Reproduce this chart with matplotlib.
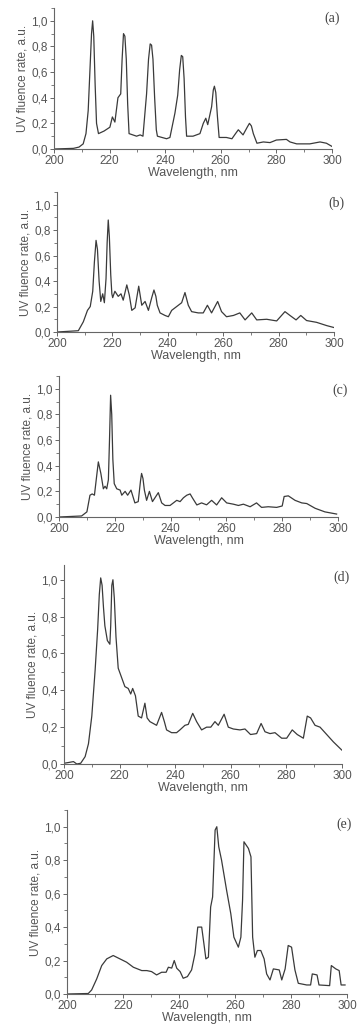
import matplotlib.pyplot as plt
from matplotlib.ticker import MultipleLocator, FuncFormatter

# Spectrum (a)
wl_a = [200, 207, 209, 210.5, 211.5, 212.3, 213, 213.5, 213.9, 214.3, 214.8, 215.3, 216, 218, 220.1,
        221, 221.9, 223, 224, 224.5, 225, 225.5, 226, 226.5, 227,
        229.7, 231, 232, 233.3, 234, 234.6, 235.1, 235.6, 236.2, 236.8, 237.2, 240.5, 241.7, 243.5,
        244.5, 245.2, 245.8, 246.3, 246.8, 247.3, 247.7,
        250, 252.5, 253.7, 254.6, 255.3, 256.7, 257.3, 257.7, 258.2, 258.8, 259.4, 262, 264, 265.3,
        266.3, 268, 269.5, 270.3, 271, 271.7, 273, 275.3, 277.7, 280, 283.6, 284.9, 287.3, 292, 295.7,
        298, 300]
uv_a = [0.0, 0.005, 0.015, 0.04, 0.12, 0.3, 0.65, 0.9, 1.0, 0.88, 0.5, 0.2, 0.12, 0.14, 0.17,
        0.25, 0.21, 0.4, 0.43, 0.7, 0.9, 0.88, 0.7, 0.35, 0.12,
        0.10, 0.11, 0.10, 0.43, 0.7, 0.82, 0.81, 0.7, 0.4, 0.15, 0.10, 0.08, 0.09, 0.28,
        0.42, 0.62, 0.73, 0.72, 0.55, 0.25, 0.10,
        0.10, 0.12, 0.2, 0.24, 0.19, 0.33, 0.46, 0.49, 0.44, 0.25, 0.09, 0.09, 0.08, 0.12,
        0.15, 0.11, 0.17, 0.2, 0.18, 0.12, 0.045, 0.055, 0.05, 0.07, 0.075, 0.055, 0.04, 0.04, 0.055,
        0.045, 0.02]

# Spectrum (b)
wl_b = [200, 207.7, 209.5, 211, 212, 212.9, 213.5, 214.1, 214.6, 215.2, 215.8, 216.5, 217.1, 217.7,
        218.1, 218.5, 218.9, 219.4, 219.8,
        220.1, 220.9, 222.1, 223.1, 223.9, 225.2, 226.1, 227, 228.2, 229.5, 230.6, 231.8, 233, 234.2,
        235, 235.7, 236.2, 237.2, 239, 240.2, 241.4, 243.2, 245, 246.2, 247.4, 248.6, 251, 252.8, 254.3,
        255.8, 258, 259.4, 261.2, 263.7, 266, 267.9, 270.3, 272.1, 275.7, 279.3, 282.3, 284.1, 286.3,
        288, 290.1, 293.7, 297.4, 300]
uv_b = [0.0, 0.01, 0.08, 0.17, 0.2, 0.32, 0.55, 0.72, 0.65, 0.4, 0.24, 0.3, 0.23, 0.42,
        0.7, 0.88, 0.75, 0.45, 0.3,
        0.27, 0.32, 0.28, 0.3, 0.25, 0.37, 0.29, 0.17, 0.19, 0.36, 0.21, 0.24, 0.17, 0.27,
        0.33, 0.28, 0.21, 0.15, 0.13, 0.12, 0.17, 0.2, 0.23, 0.31, 0.21, 0.16, 0.15, 0.15, 0.21,
        0.15, 0.24, 0.16, 0.12, 0.13, 0.15, 0.095, 0.15, 0.095, 0.1, 0.087, 0.16, 0.13, 0.095,
        0.13, 0.09, 0.076, 0.05, 0.035]

# Spectrum (c)
wl_c = [200, 208.1, 210, 211.1, 211.9, 212.7, 213.5, 214.1, 215, 215.9, 216.5, 217.1, 217.7, 218.1,
        218.5, 218.9, 219.3, 219.8, 220.7, 221.9, 222.5, 223.7, 224.6, 225.8, 227.2, 228.4, 229.2,
        229.6, 230.1, 230.6, 231.4,
        232.4, 233.5, 235.6, 236.8, 238, 239.8, 242.2, 243.4, 244.6, 245.8, 247, 247.8, 249.4, 251.1,
        252.9, 254.7, 256.5, 258.3, 260.1, 262.5, 264.3, 266.1, 268.5, 270.8, 272.6, 275, 278, 280,
        280.7, 282.2, 284.6, 287, 288.8, 291.8, 295.3, 299.5]
uv_c = [0.0, 0.008, 0.04, 0.17, 0.18, 0.17, 0.32, 0.43, 0.34, 0.22, 0.24, 0.22, 0.29, 0.6,
        0.95, 0.8, 0.45, 0.26, 0.22, 0.21, 0.17, 0.2, 0.17, 0.21, 0.11, 0.12, 0.28,
        0.34, 0.3, 0.21, 0.13,
        0.2, 0.12, 0.19, 0.11, 0.09, 0.09, 0.13, 0.12, 0.15, 0.17, 0.18, 0.15, 0.094, 0.11,
        0.095, 0.13, 0.094, 0.15, 0.11, 0.1, 0.09, 0.1, 0.08, 0.11, 0.075, 0.08, 0.075, 0.086,
        0.16, 0.165, 0.13, 0.11, 0.105, 0.068, 0.04, 0.023]

# Spectrum (d)
wl_d = [200, 201.6, 203.4, 204.6, 206, 207.6, 208.8, 210, 211.2, 212.1, 212.7, 213.2, 213.7, 214.2,
        214.7, 215.6, 216.5, 216.8, 217.2, 217.6, 218.1, 218.7, 219.5, 220.7, 221.9, 223.1, 224,
        224.7, 225.7, 226.7, 227.9, 229.1,
        229.9, 230.9, 232.1, 233.3, 235.1, 236.1, 236.9, 238.7, 240.5, 241.7, 243.5, 244.7, 246.3,
        247.7, 249.5, 251.3, 252.8, 254.3, 255.5, 257.6, 259.1, 260.9, 263.3, 265.1, 267.1, 269.3,
        270.9, 272.3, 274.1, 275.9, 278.3, 280.1, 282.1, 283.9, 286.1, 287.5, 288.7, 290.3, 292.1,
        294.5, 296.9, 299.9]
uv_d = [0.004, 0.008, 0.013, 0.0, 0.004, 0.04, 0.11, 0.26, 0.51, 0.73, 0.92, 1.01, 0.97, 0.85,
        0.75, 0.67, 0.65, 0.75, 0.97, 1.0, 0.9, 0.69, 0.52, 0.47, 0.42, 0.41, 0.38,
        0.41, 0.37, 0.26, 0.25, 0.33,
        0.25, 0.23, 0.22, 0.21, 0.28, 0.23, 0.185, 0.17, 0.17, 0.185, 0.21, 0.215, 0.275,
        0.23, 0.185, 0.2, 0.2, 0.23, 0.21, 0.27, 0.2, 0.19, 0.185, 0.19, 0.16, 0.165,
        0.22, 0.175, 0.165, 0.17, 0.14, 0.14, 0.185, 0.16, 0.14, 0.26, 0.25, 0.21, 0.2,
        0.16, 0.12, 0.076]

# Spectrum (e)
wl_e = [200, 207.6, 208.8, 210.6, 212.4, 214.2, 216.5, 218.9, 221.3, 223.7, 226.7, 228.5, 230.2,
        232, 233.8, 235.4, 236.2, 237.4, 238.3, 239.2, 240.4, 241.5, 243, 244.5, 245.7, 246.7, 248.1,
        248.9, 249.6, 250.5, 251.3, 252, 252.9, 253.5, 254.2, 255.2, 257, 258.5, 259.6, 261.2, 262.1,
        262.7, 263.2, 264.8, 265.7, 266.3, 267.1, 268, 269.2, 270.4, 271.3, 272.5, 273.7, 275.8,
        276.7, 277.9, 279, 280.2, 281.4, 282.6, 285.6, 287, 287.6, 289.3, 290, 293.8, 294.4, 296,
        297.2, 297.9, 299.3]
uv_e = [0.0, 0.003, 0.024, 0.09, 0.17, 0.21, 0.23, 0.21, 0.19, 0.16, 0.14, 0.14, 0.134,
        0.114, 0.13, 0.13, 0.16, 0.155, 0.2, 0.154, 0.134, 0.094, 0.104, 0.144, 0.24, 0.4, 0.4,
        0.3, 0.21, 0.22, 0.52, 0.58, 0.98, 1.0, 0.88, 0.8, 0.62, 0.48, 0.34, 0.28, 0.34,
        0.56, 0.91, 0.87, 0.82, 0.34, 0.22, 0.26, 0.26, 0.21, 0.12, 0.084, 0.15, 0.144,
        0.084, 0.15, 0.29, 0.28, 0.144, 0.064, 0.054, 0.054, 0.12, 0.114, 0.054, 0.05, 0.17, 0.15,
        0.14, 0.054, 0.054]

panels = [
    (wl_a, uv_a, '(a)', [54, 332, 149, 8], (1.0, 0.93)),
    (wl_b, uv_b, '(b)', [57, 334, 332, 192], (1.01, 0.92)),
    (wl_c, uv_c, '(c)', [59, 338, 517, 376], (1.007, 0.90)),
    (wl_d, uv_d, '(d)', [64, 342, 764, 565], (1.0, 0.94)),
    (wl_e, uv_e, '(e)', [67, 347, 994, 810], (0.99, 0.92)),
]
ytops = [1.1, 1.1, 1.1, 1.08, 1.1]

W, H = 361, 1030
fig = plt.figure(figsize=(W / 100, H / 100), dpi=100)
txt = '#555555'
plt.rcParams['font.family'] = ['Liberation Sans', 'DejaVu Sans']

comma = FuncFormatter(lambda v, p: f'{v:.1f}'.replace('.', ','))

for (x, y, tag, box, lab), top in zip(panels, ytops):
    x0, x1, yb, yt = box
    ax = fig.add_axes([x0 / W, 1 - yb / H, (x1 - x0) / W, (yb - yt) / H])
    ax.plot(x, y, color='#3a3a3a', lw=0.9)
    ax.set_xlim(200, 300)
    ax.set_ylim(0, top)
    ax.spines['top'].set_visible(False)
    ax.spines['right'].set_visible(False)
    for s in ('left', 'bottom'):
        ax.spines[s].set_color('#666666')
        ax.spines[s].set_linewidth(0.8)
    ax.xaxis.set_major_locator(MultipleLocator(20))
    ax.xaxis.set_minor_locator(MultipleLocator(10))
    ax.yaxis.set_major_locator(MultipleLocator(0.2))
    ax.yaxis.set_minor_locator(MultipleLocator(0.1))
    ax.yaxis.set_major_formatter(comma)
    ax.tick_params(which='major', length=3, width=0.7, colors='#666666', labelcolor=txt, labelsize=8.5, pad=1.5)
    ax.tick_params(which='minor', length=2, width=0.6, colors='#666666')
    ax.set_xlabel('Wavelength, nm', fontsize=9, color=txt, labelpad=0)
    ax.set_ylabel('UV fluence rate, a.u.', fontsize=8.5, color=txt, labelpad=2)
    ax.text(lab[0], lab[1], tag, transform=ax.transAxes, ha='center', va='center',
            fontsize=10, color='#444444', family=['Liberation Serif', 'DejaVu Serif'])

fig.savefig('out.png', dpi=100)
